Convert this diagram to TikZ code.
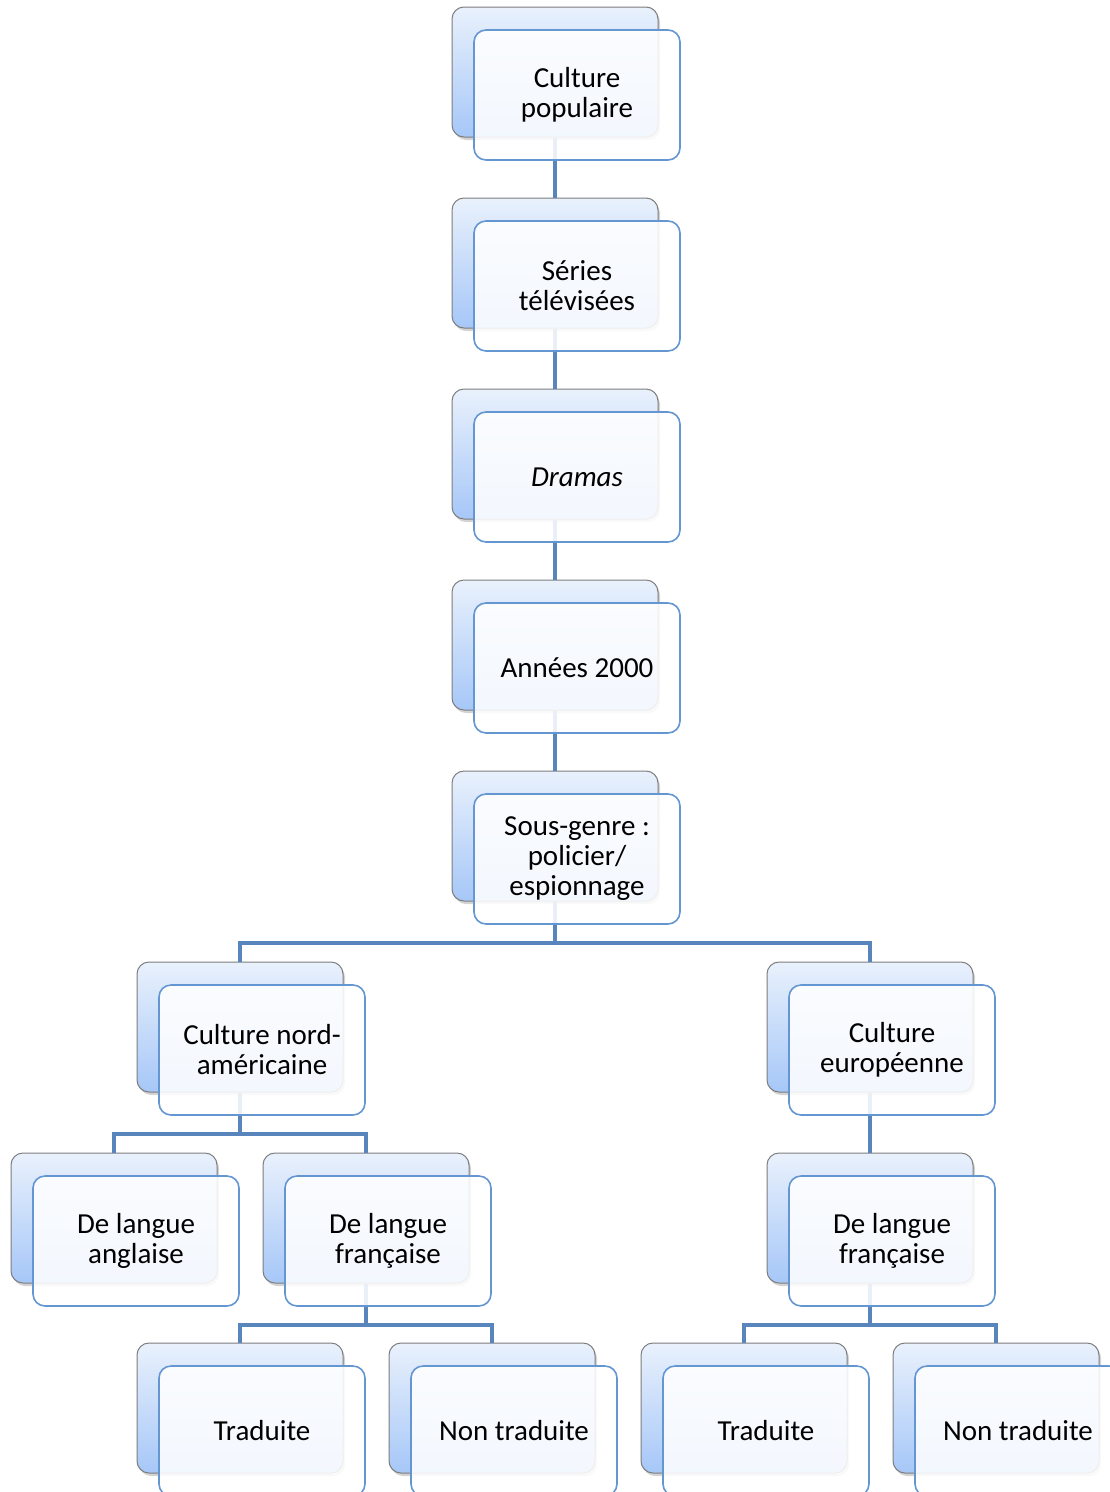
\documentclass[tikz,border=0pt]{standalone}
\usepackage{fontspec}
\setmainfont{Carlito}
\usetikzlibrary{shadows}
\definecolor{conn}{RGB}{88,134,188}
\definecolor{backtop}{RGB}{233,241,252}
\definecolor{backbot}{RGB}{166,199,248}
\definecolor{backedge}{RGB}{125,125,125}
\definecolor{frontedge}{RGB}{100,150,210}
\tikzset{
 backbox/.style={rectangle, rounded corners=12pt, minimum width=206pt, minimum height=130pt, inner sep=0pt, draw=backedge, line width=1pt, top color=backtop, bottom color=backbot, drop shadow={shadow xshift=2pt,shadow yshift=-3pt,opacity=0.35}},
 frontbox/.style={rectangle, rounded corners=12pt, minimum width=206pt, minimum height=130pt, inner sep=0pt, draw=frontedge, line width=1.6pt, fill=white, fill opacity=0.87, text opacity=1, align=center, font=\fontsize{29}{30}\selectfont},
 link/.style={draw=conn, line width=4pt},
}
\newcommand\backat[3]{\node[backbox] (#1) at ({#2+103},{#3+65}) {};}
\newcommand\frontat[4]{\node[frontbox] (#1) at ({#2+125},{#3+88}) {#4};}
\begin{document}
\begin{tikzpicture}[x=1pt,y=-1pt]
\useasboundingbox (0,0) rectangle (1110,1492);
\clip (0,0) rectangle (1110,1492);
% back boxes
\backat{b1}{452}{7}
\backat{b2}{452}{198}
\backat{b3}{452}{389}
\backat{b4}{452}{580}
\backat{b5}{452}{771}
\backat{b6}{137}{962}
\backat{b7}{767}{962}
\backat{b8}{11}{1153}
\backat{b9}{263}{1153}
\backat{b10}{767}{1153}
\backat{b11}{137}{1343}
\backat{b12}{389}{1343}
\backat{b13}{641}{1343}
\backat{b14}{893}{1343}
% connectors
\draw[link] (b1.south) -- (b2.north);
\draw[link] (b2.south) -- (b3.north);
\draw[link] (b3.south) -- (b4.north);
\draw[link] (b4.south) -- (b5.north);
\draw[link] (b5.south) -- ++(0,41) -| (b6.north);
\draw[link] (b5.south) -- ++(0,41) -| (b7.north);
\draw[link] (b6.south) -- ++(0,41) -| (b8.north);
\draw[link] (b6.south) -- ++(0,41) -| (b9.north);
\draw[link] (b7.south) -- (b10.north);
\draw[link] (b9.south) -- ++(0,41) -| (b11.north);
\draw[link] (b9.south) -- ++(0,41) -| (b12.north);
\draw[link] (b10.south) -- ++(0,41) -| (b13.north);
\draw[link] (b10.south) -- ++(0,41) -| (b14.north);
% front boxes
\frontat{f1}{452}{7}{Culture\\populaire}
\frontat{f2}{452}{198}{Séries\\télévisées}
\frontat{f3}{452}{389}{\itshape Dramas}
\frontat{f4}{452}{580}{Années 2000}
\frontat{f5}{452}{771}{Sous-genre :\\policier/\\espionnage}
\frontat{f6}{137}{962}{Culture nord-\\américaine}
\frontat{f7}{767}{962}{Culture\\européenne}
\frontat{f8}{11}{1153}{De langue\\anglaise}
\frontat{f9}{263}{1153}{De langue\\française}
\frontat{f10}{767}{1153}{De langue\\française}
\frontat{f11}{137}{1343}{Traduite}
\frontat{f12}{389}{1343}{Non traduite}
\frontat{f13}{641}{1343}{Traduite}
\frontat{f14}{893}{1343}{Non traduite}
\end{tikzpicture}
\end{document}
